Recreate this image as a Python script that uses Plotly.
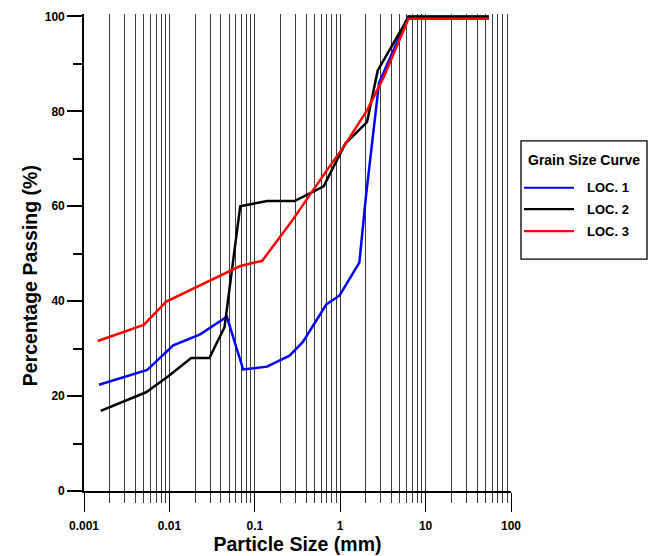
import plotly.graph_objects as go

# ---------------- data ----------------
loc1_size = [0.0015, 0.0055, 0.0111, 0.0229, 0.0471, 0.0731, 0.139, 0.255, 0.366,
             0.687, 0.984, 1.675, 2.0, 2.85, 6.3, 55]
loc1_pass = [22.4, 25.5, 30.7, 33.0, 36.7, 25.6, 26.2, 28.5, 31.4,
             39.3, 41.2, 48.1, 62.0, 86.0, 100.0, 100.0]

loc2_size = [0.00157, 0.00533, 0.0097, 0.018, 0.0294, 0.0442, 0.0675, 0.139, 0.292,
             0.64, 1.148, 2.06, 2.75, 6.3, 55]
loc2_pass = [16.9, 20.8, 24.2, 28.0, 28.0, 34.5, 60.0, 61.1, 61.1,
             64.2, 73.2, 77.7, 88.6, 99.8, 99.8]

loc3_size = [0.00145, 0.005, 0.0092, 0.0675, 0.122, 0.265, 0.70, 1.096, 2.06,
             3.23, 6.3, 55]
loc3_pass = [31.6, 35.0, 39.9, 47.4, 48.5, 56.6, 67.6, 72.5, 80.2,
             87.2, 99.5, 99.5]

series_names = ["LOC. 1", "LOC. 2", "LOC. 3"]
series_colors = ["#0000FF", "#000000", "#FF0000"]

x_major = [0.001, 0.01, 0.1, 1, 10, 100]
x_major_text = ["0.001", "0.01", "0.1", "1", "10", "100"]
x_minor = [m * d for d in [0.001, 0.01, 0.1, 1, 10] for m in range(2, 10)]
y_major = [0, 20, 40, 60, 80, 100]
y_minor = [10, 30, 50, 70, 90]

legend_title = "Grain Size Curve"
x_title = "Particle Size (mm)"
y_title = "Percentage Passing (%)"

FONT = "Liberation Sans, Arial, sans-serif"

fig = go.Figure()
for xs, ys, name, col in zip([loc1_size, loc2_size, loc3_size],
                             [loc1_pass, loc2_pass, loc3_pass],
                             series_names, series_colors):
    fig.add_trace(go.Scatter(x=xs, y=ys, mode="lines", name=name,
                             line=dict(color=col, width=2.5), showlegend=False))

W, H = 659, 556
L, R_EDGE = 84, 511
Y0, Y100 = 491, 16
ytop = 100.5
plot_h = (Y0 - Y100) * ytop / 100.0
top = Y0 - plot_h

fig.update_layout(
    width=W, height=H,
    margin=dict(l=L, r=W - R_EDGE, t=top, b=H - Y0, pad=0, autoexpand=False),
    paper_bgcolor="white", plot_bgcolor="white",
    font=dict(family=FONT, color="black"),
    xaxis=dict(
        type="log", range=[-3, 2], automargin=False,
        tickvals=x_major, ticktext=x_major_text,
        ticks="outside", ticklen=19, tickwidth=1.3, tickcolor="black",
        ticklabelstandoff=4,
        showgrid=True, gridcolor="#3a3a3a", gridwidth=1,
        showline=True, linecolor="black", linewidth=1.6,
        zeroline=False,
        tickfont=dict(family=FONT, size=12, color="black", weight="bold"),
        minor=dict(tickvals=x_minor, ticks="outside", ticklen=10, tickwidth=1,
                   tickcolor="#3a3a3a", showgrid=True, gridcolor="#3a3a3a", gridwidth=1),
        title=dict(text=x_title, font=dict(family=FONT, size=19.5, weight="bold"), standoff=3),
    ),
    yaxis=dict(
        range=[0, ytop], automargin=False,
        tickvals=y_major,
        ticks="outside", ticklen=15, tickwidth=1.6, tickcolor="black",
        showgrid=False, zeroline=False,
        showline=True, linecolor="black", linewidth=1.6,
        tickfont=dict(family=FONT, size=12, color="black", weight="bold"),
        minor=dict(tickvals=y_minor, ticks="outside", ticklen=9, tickwidth=1.6,
                   tickcolor="black", showgrid=False),
    ),
)

# ----- pixel helpers for paper coordinates -----
def px(xp):
    return (xp - L) / (R_EDGE - L)

def py(yp):
    return (Y0 - yp) / (Y0 - top)

# y-axis title
fig.add_annotation(xref="paper", yref="paper", x=px(30), y=py(276),
                   text=f"<b>{y_title}</b>", showarrow=False, textangle=-90,
                   font=dict(family=FONT, size=19.5, color="black"),
                   xanchor="center", yanchor="middle")

# ----- legend box -----
fig.add_shape(type="rect", xref="paper", yref="paper",
              x0=px(521), x1=px(647), y0=py(259), y1=py(140.5),
              line=dict(color="black", width=1.3), fillcolor="white", layer="above")
fig.add_annotation(xref="paper", yref="paper", x=px(584), y=py(160),
                   text=f"<b>{legend_title}</b>", showarrow=False,
                   font=dict(family=FONT, size=14, color="black"),
                   xanchor="center", yanchor="middle")
for i, (name, col) in enumerate(zip(series_names, series_colors)):
    yy = [187.5, 209, 231][i]
    fig.add_shape(type="line", xref="paper", yref="paper",
                  x0=px(524), x1=px(574), y0=py(yy), y1=py(yy),
                  line=dict(color=col, width=2.2))
    fig.add_annotation(xref="paper", yref="paper", x=px(585), y=py(yy),
                       text=f"<b>{name}</b>", showarrow=False,
                       font=dict(family=FONT, size=13, color="black"),
                       xanchor="left", yanchor="middle")

fig.write_html("out.html")
